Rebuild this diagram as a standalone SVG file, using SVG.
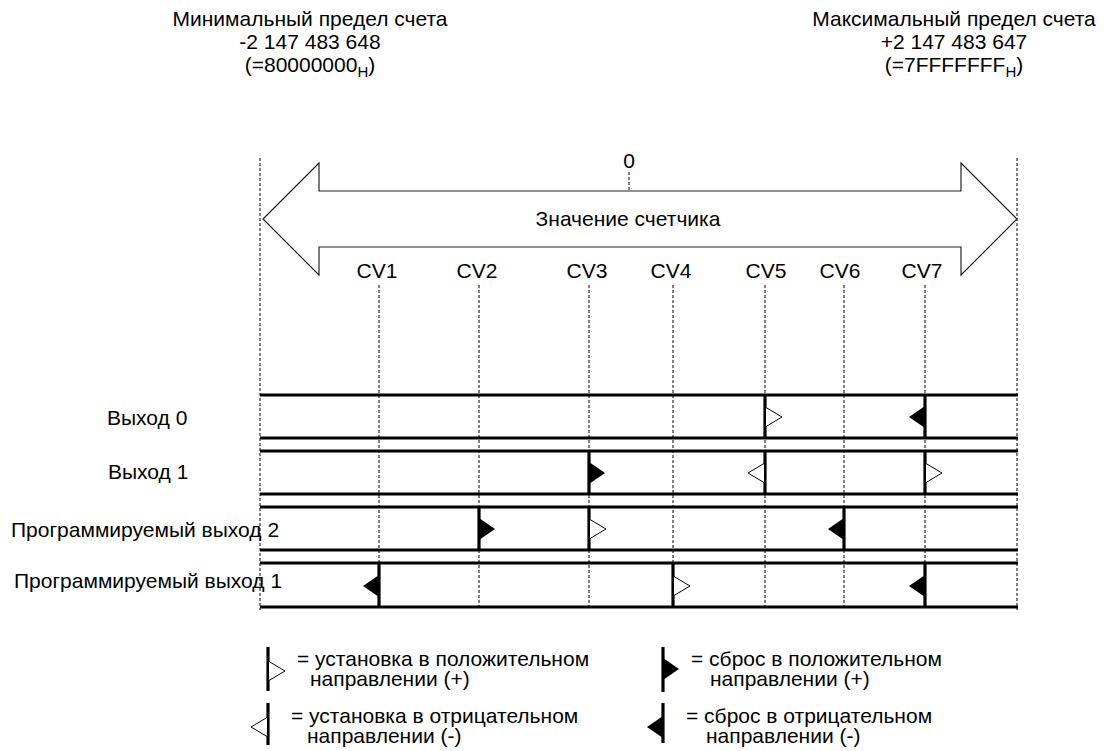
<svg xmlns="http://www.w3.org/2000/svg" xmlns:xlink="http://www.w3.org/1999/xlink" width="1113" height="751" viewBox="0 0 1113 751">
<style>
text{font-family:"Liberation Sans",Arial,sans-serif;font-size:21px;fill:#000}
.mid{text-anchor:middle}
.sub{font-size:15px}
.dash{stroke:#000;stroke-width:1;stroke-dasharray:3,2;fill:none}
.thick{stroke:#000;stroke-width:3.2;fill:none}
.open{stroke:#000;stroke-width:1;fill:#fff}
.fill{fill:#000;stroke:none}
</style>
<defs>
<path id="setR" class="open" d="M0,-9.5 L16,0 L0,9.5"/>
<path id="setL" class="open" d="M0,-9.5 L-16,0 L0,9.5"/>
<path id="rstR" class="fill" d="M0,-11 L16,0 L0,11 Z"/>
<path id="rstL" class="fill" d="M0,-11 L-16,0 L0,11 Z"/>
</defs>
<rect width="1113" height="751" fill="#fff"/>

<g id="min-limit">
<text class="mid" x="310" y="26">Минимальный предел счета</text>
<text class="mid" x="310" y="49">-2 147 483 648</text>
<text class="mid" x="310" y="72">(=80000000<tspan class="sub" dy="5">H</tspan><tspan dy="-5">)</tspan></text>
</g>
<g id="max-limit">
<text class="mid" x="954" y="26">Максимальный предел счета</text>
<text class="mid" x="954" y="49">+2 147 483 647</text>
<text class="mid" x="954" y="72">(=7FFFFFFF<tspan class="sub" dy="5">H</tspan><tspan dy="-5">)</tspan></text>
</g>

<g id="connectors">
<line class="dash" x1="260" y1="158" x2="260" y2="610"/>
<line class="dash" x1="1017" y1="158" x2="1017" y2="610"/>
<line class="dash" x1="629" y1="172" x2="629" y2="191"/>
<line class="dash" x1="379" y1="285" x2="379" y2="608"/>
<line class="dash" x1="479" y1="285" x2="479" y2="608"/>
<line class="dash" x1="589" y1="285" x2="589" y2="608"/>
<line class="dash" x1="673" y1="285" x2="673" y2="608"/>
<line class="dash" x1="765" y1="285" x2="765" y2="608"/>
<line class="dash" x1="844" y1="285" x2="844" y2="608"/>
<line class="dash" x1="925" y1="285" x2="925" y2="608"/>
</g>

<g id="counter-arrow">
<polygon points="263,219 319,163 319,191 961,191 961,163 1017,219 961,275 961,247 319,247 319,275" fill="#fff" stroke="#222" stroke-width="1.2"/>
<text class="mid" x="629" y="168">0</text>
<text class="mid" x="628" y="226">Значение счетчика</text>
</g>

<g id="cv-labels">
<text class="mid" x="377" y="278">CV1</text>
<text class="mid" x="477" y="278">CV2</text>
<text class="mid" x="587" y="278">CV3</text>
<text class="mid" x="671" y="278">CV4</text>
<text class="mid" x="766" y="278">CV5</text>
<text class="mid" x="840" y="278">CV6</text>
<text class="mid" x="922" y="278">CV7</text>
</g>

<g id="row-out0">
<text x="107" y="425">Выход 0</text>
<line class="thick" x1="260" y1="395" x2="1018" y2="395"/>
<line class="thick" x1="260" y1="438" x2="1018" y2="438"/>
<line class="thick" x1="765" y1="395" x2="765" y2="438"/>
<line class="thick" x1="925" y1="395" x2="925" y2="438"/>
<use xlink:href="#setR" x="766" y="417"/>
<use xlink:href="#rstL" x="925" y="417"/>
</g>

<g id="row-out1">
<text x="108" y="479">Выход 1</text>
<line class="thick" x1="260" y1="451" x2="1018" y2="451"/>
<line class="thick" x1="260" y1="494" x2="1018" y2="494"/>
<line class="thick" x1="589" y1="451" x2="589" y2="494"/>
<line class="thick" x1="765" y1="451" x2="765" y2="494"/>
<line class="thick" x1="925" y1="451" x2="925" y2="494"/>
<use xlink:href="#rstR" x="589" y="473"/>
<use xlink:href="#setL" x="764" y="473"/>
<use xlink:href="#setR" x="926" y="473"/>
</g>

<g id="row-prog2">
<text x="11" y="537">Программируемый выход 2</text>
<line class="thick" x1="260" y1="507" x2="1018" y2="507"/>
<line class="thick" x1="260" y1="550" x2="1018" y2="550"/>
<line class="thick" x1="479" y1="507" x2="479" y2="550"/>
<line class="thick" x1="589" y1="507" x2="589" y2="550"/>
<line class="thick" x1="844" y1="507" x2="844" y2="550"/>
<use xlink:href="#rstR" x="479" y="529"/>
<use xlink:href="#setR" x="590" y="529"/>
<use xlink:href="#rstL" x="844" y="529"/>
</g>

<g id="row-prog1">
<text x="14" y="588">Программируемый выход 1</text>
<line class="thick" x1="260" y1="563" x2="1018" y2="563"/>
<line class="thick" x1="260" y1="607" x2="1018" y2="607"/>
<line class="thick" x1="379" y1="563" x2="379" y2="607"/>
<line class="thick" x1="673" y1="563" x2="673" y2="607"/>
<line class="thick" x1="925" y1="563" x2="925" y2="607"/>
<use xlink:href="#rstL" x="379" y="586"/>
<use xlink:href="#setR" x="674" y="586"/>
<use xlink:href="#rstL" x="925" y="586"/>
</g>

<g id="legend-set-pos">
<line class="thick" x1="268" y1="647" x2="268" y2="691"/>
<use xlink:href="#setR" x="269" y="671"/>
<text x="297" y="666">= установка в положительном</text>
<text x="310" y="686">направлении (+)</text>
</g>
<g id="legend-set-neg">
<line class="thick" x1="268" y1="703" x2="268" y2="745"/>
<use xlink:href="#setL" x="267" y="727"/>
<text x="291" y="723">= установка в отрицательном</text>
<text x="307" y="743">направлении (-)</text>
</g>
<g id="legend-rst-pos">
<line class="thick" x1="663" y1="647" x2="663" y2="692"/>
<use xlink:href="#rstR" x="663" y="669"/>
<text x="691" y="666">= сброс в положительном</text>
<text x="710" y="686">направлении (+)</text>
</g>
<g id="legend-rst-neg">
<line class="thick" x1="663" y1="703" x2="663" y2="743"/>
<use xlink:href="#rstL" x="663" y="727"/>
<text x="686" y="723">= сброс в отрицательном</text>
<text x="706" y="743">направлении (-)</text>
</g>
</svg>
